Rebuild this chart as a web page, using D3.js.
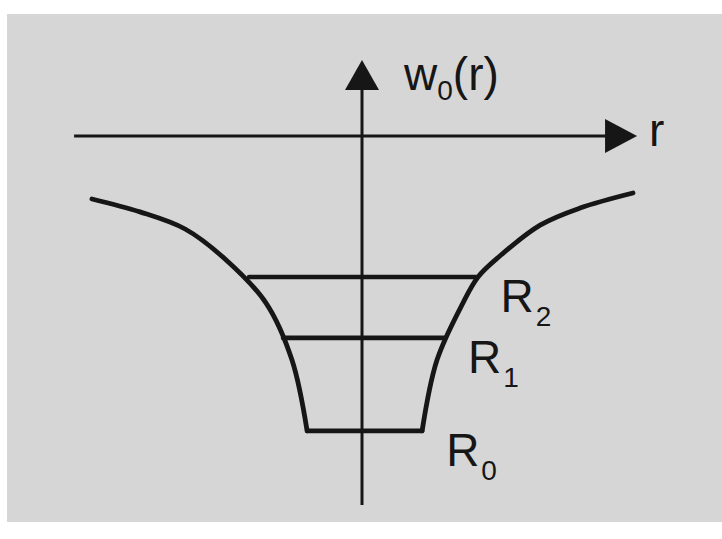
<!DOCTYPE html>
<html>
<head>
<meta charset="utf-8">
<script src="https://cdn.jsdelivr.net/npm/d3@7"></script>
<style>
  html, body { margin: 0; padding: 0; background: #ffffff; }
  svg { display: block; }
  text { font-family: Arial, "Liberation Sans", sans-serif; fill: #161616; }
</style>
</head>
<body>
<svg id="chart" width="722" height="539"></svg>
<script>
// ---- data (r, w0 in arbitrary units) ----
const leftBranchR  = [-10.04, -8.26, -6.59, -5.11, -3.59, -2.63, -2.07];
const leftBranchW  = [-2.1, -2.53, -3.1, -4.1, -5.57, -7.47, -9.83];
const rightBranchR = [2.19, 2.74, 3.7, 4.26, 5.07, 6.56, 8.04, 10.0];
const rightBranchW = [-9.83, -7.47, -5.57, -4.7, -4.0, -2.97, -2.4, -1.9];
const levelNames   = ["R", "R", "R"];
const levelSubs    = ["0", "1", "2"];
const levelW       = [-9.83, -6.73, -4.7];
const levelRLeft   = [-2.07, -2.96, -4.22];
const levelRRight  = [2.19, 3.0, 4.2];
const axisRRange   = [-10.7, 10.15];
const axisWRange   = [-12.3, 2.53];
const yAxisLabel   = ["w", "0", "(r)"];
const xAxisLabel   = "r";

const svg = d3.select("#chart");
const ink = "#161616";

// background panel (scanned gray)
svg.append("rect").attr("x", 7).attr("y", 14).attr("width", 715).attr("height", 508)
  .attr("fill", "#d6d6d6");

const x = d3.scaleLinear().domain([-10, 10]).range([93, 633]);
const y = d3.scaleLinear().domain([0, -10]).range([136, 436]);

// horizontal axis with arrow
const xArrowLen = 32, xArrowHalf = 17;
svg.append("line")
  .attr("x1", x(axisRRange[0])).attr("x2", x(axisRRange[1]) - xArrowLen + 2)
  .attr("y1", y(0)).attr("y2", y(0))
  .attr("stroke", ink).attr("stroke-width", 3.2);
svg.append("path")
  .attr("d", d3.line()([
    [x(axisRRange[1]), y(0)],
    [x(axisRRange[1]) - xArrowLen, y(0) - xArrowHalf],
    [x(axisRRange[1]) - xArrowLen, y(0) + xArrowHalf]
  ]) + "Z")
  .attr("fill", ink);

// vertical axis with arrow
const yArrowLen = 30, yArrowHalf = 17;
svg.append("line")
  .attr("x1", x(0) - 1).attr("x2", x(0) - 1)
  .attr("y1", y(axisWRange[0])).attr("y2", y(axisWRange[1]) + yArrowLen - 2)
  .attr("stroke", ink).attr("stroke-width", 3);
svg.append("path")
  .attr("d", d3.line()([
    [x(0) - 1, y(axisWRange[1])],
    [x(0) - 1 - yArrowHalf, y(axisWRange[1]) + yArrowLen],
    [x(0) - 1 + yArrowHalf, y(axisWRange[1]) + yArrowLen]
  ]) + "Z")
  .attr("fill", ink);

// potential curve branches
const line = d3.line().x(d => x(d[0])).y(d => y(d[1])).curve(d3.curveCatmullRom.alpha(0.5));
const leftPts = leftBranchR.map((r, i) => [r, leftBranchW[i]]);
const rightPts = rightBranchR.map((r, i) => [r, rightBranchW[i]]);
[leftPts, rightPts].forEach(pts => {
  svg.append("path").attr("d", line(pts))
    .attr("fill", "none").attr("stroke", ink)
    .attr("stroke-width", 4.8).attr("stroke-linecap", "round").attr("stroke-linejoin", "round");
});

// energy levels
levelW.forEach((w, i) => {
  svg.append("line")
    .attr("x1", x(levelRLeft[i])).attr("x2", x(levelRRight[i]))
    .attr("y1", y(w)).attr("y2", y(w))
    .attr("stroke", ink).attr("stroke-width", 4.6).attr("stroke-linecap", "round");
  const t = svg.append("text")
    .attr("x", x(levelRRight[i]) + 24).attr("y", y(w) + 35)
    .attr("font-size", 46);
  t.append("tspan").text(levelNames[i]);
  t.append("tspan").attr("dx", 2).attr("dy", 14).attr("font-size", 28).text(levelSubs[i]);
});

// axis labels
const yl = svg.append("text").attr("x", x(0) + 41).attr("y", y(0) - 46).attr("font-size", 46);
yl.append("tspan").text(yAxisLabel[0]);
yl.append("tspan").attr("dy", 10).attr("font-size", 28).text(yAxisLabel[1]);
yl.append("tspan").attr("dy", -10).text(yAxisLabel[2]);

svg.append("text").attr("x", x(axisRRange[1]) + 12).attr("y", y(0) + 10)
  .attr("font-size", 46).text(xAxisLabel);
</script>
</body>
</html>
